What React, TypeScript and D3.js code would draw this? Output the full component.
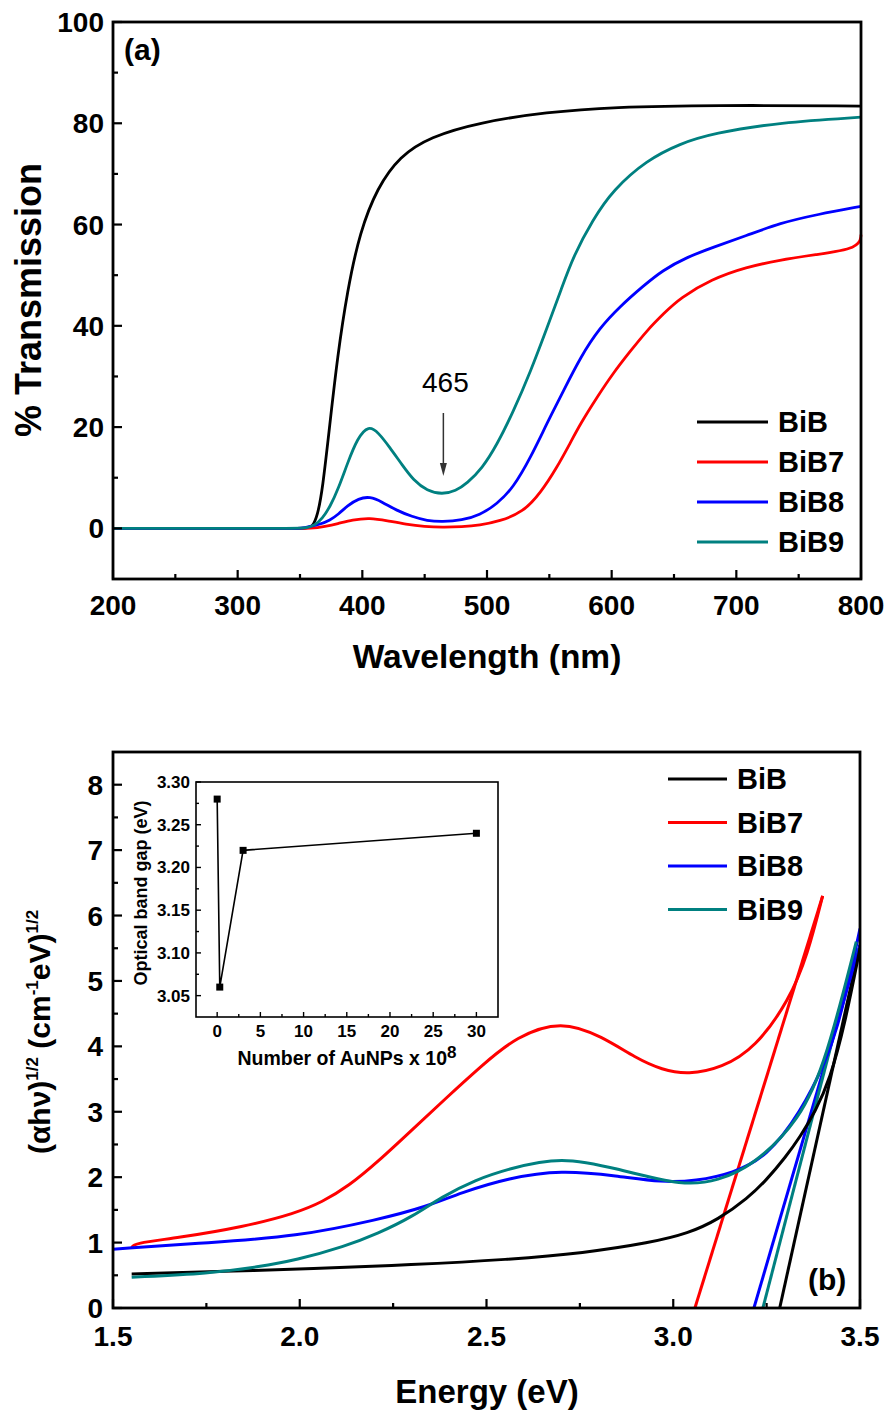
import React from "react";
import * as d3 from "d3";

// ---------- Panel (a): transmission spectra ----------
const bibWl = [200, 340, 356, 360, 364, 368, 374, 380, 388, 398, 412, 430, 454, 494, 548, 601, 681, 800];
const bibT = [0, 0, 0, 0.3, 2.5, 7.5, 20.7, 33.8, 47, 58.5, 67.3, 73.5, 77.3, 80.2, 82.2, 83.2, 83.6, 83.4];

const bib7Wl = [200, 340, 360, 370, 380, 392, 406, 420, 435, 450, 464, 480, 494, 510, 529, 543, 556, 566, 575, 588, 601, 615, 628, 642, 655, 680, 708, 735, 762, 799, 800];
const bib7T = [0, 0, 0, 0.4, 0.9, 1.7, 2.1, 1.5, 0.8, 0.35, 0.2, 0.3, 0.6, 1.4, 3.2, 7, 12, 16.5, 20.7, 25.8, 30.6, 35, 39, 42.5, 45.5, 49.2, 51.6, 53, 54, 55.3, 58];

const bib8Wl = [200, 340, 352, 358, 366, 374, 381, 388, 397, 406, 416, 427, 440, 452, 464, 480, 494, 508, 521, 535, 548, 562, 575, 590, 607, 625, 641, 660, 681, 708, 735, 765, 800];
const bib8T = [0, 0, 0, 0.4, 0.8, 1.6, 2.8, 4.5, 5.9, 6.3, 5.2, 3.6, 2.3, 1.5, 1.3, 1.6, 2.6, 4.8, 8, 14, 20.7, 27.5, 33.8, 39.5, 43.9, 47.8, 51, 53.5, 55.5, 57.8, 60.3, 62, 63.6];

const bib9Wl = [200, 340, 355, 362, 368, 374, 381, 388, 396, 405, 413, 422, 432, 441, 452, 464, 475, 484, 496, 508, 521, 535, 548, 560, 569, 585, 601, 628, 655, 681, 735, 800];
const bib9T = [0, 0, 0, 0.6, 2, 4.2, 8, 12.8, 17.8, 20.4, 18.9, 16, 12.5, 9.5, 7.4, 6.7, 7.4, 8.9, 11.8, 16.5, 23, 31, 39.5, 47.5, 53.6, 61, 66.8, 72.7, 76, 78, 80.2, 81.2];

const seriesNames = ["BiB", "BiB7", "BiB8", "BiB9"];
const seriesColors = ["#000000", "#ff0000", "#0000ff", "#008080"];

const topXTicks = [200, 300, 400, 500, 600, 700, 800];
const topXMinor = [250, 350, 450, 550, 650, 750];
const topYTicks = [0, 20, 40, 60, 80, 100];
const topYMinor = [10, 30, 50, 70, 90];
const annotWl = 465;

// ---------- Panel (b): Tauc plot ----------
const bibE = [1.55, 1.8, 2.03, 2.3, 2.56, 2.76, 2.94, 3.04, 3.12, 3.2, 3.25, 3.3, 3.34, 3.38, 3.42, 3.46, 3.5];
const bibA = [0.52, 0.56, 0.6, 0.66, 0.74, 0.84, 1.0, 1.14, 1.35, 1.68, 1.96, 2.3, 2.62, 3.0, 3.5, 4.35, 5.5];

const bib7E = [1.55, 1.556, 1.67, 1.85, 1.99, 2.06, 2.13, 2.21, 2.3, 2.39, 2.49, 2.58, 2.7, 2.81, 2.9, 2.97, 3.04, 3.13, 3.22, 3.31, 3.36, 3.4];
const bib7A = [0.92, 0.99, 1.07, 1.24, 1.45, 1.62, 1.86, 2.24, 2.72, 3.2, 3.72, 4.15, 4.4, 4.15, 3.82, 3.64, 3.57, 3.67, 3.98, 4.7, 5.4, 6.3];

const bib8E = [1.5, 1.76, 1.99, 2.21, 2.34, 2.43, 2.56, 2.7, 2.85, 2.97, 3.06, 3.16, 3.25, 3.34, 3.41, 3.44, 3.47, 3.5];
const bib8A = [0.9, 1.0, 1.09, 1.35, 1.55, 1.76, 1.99, 2.11, 2.02, 1.92, 1.94, 2.06, 2.31, 2.98, 3.79, 4.3, 5.0, 5.8];

const bib9E = [1.55, 1.76, 1.89, 1.99, 2.12, 2.21, 2.3, 2.38, 2.47, 2.56, 2.7, 2.85, 3.03, 3.12, 3.21, 3.34, 3.41, 3.49];
const bib9A = [0.47, 0.53, 0.63, 0.73, 0.94, 1.14, 1.39, 1.7, 1.96, 2.13, 2.32, 2.13, 1.86, 1.95, 2.16, 2.87, 3.8, 5.6];

// linear fits (x-intercept = band gap)
const fitE = [[3.285, 3.5], [3.058, 3.4], [3.216, 3.5], [3.24, 3.49]];
const fitA = [[0, 5.55], [0, 6.3], [0, 5.55], [0, 5.5]];

const botXTicks = [1.5, 2.0, 2.5, 3.0, 3.5];
const botXMinor = [1.75, 2.25, 2.75, 3.25];
const botYTicks = [0, 1, 2, 3, 4, 5, 6, 7, 8];
const botYMinor = [0.5, 1.5, 2.5, 3.5, 4.5, 5.5, 6.5, 7.5];

// ---------- Inset ----------
const auNum = [0, 0.3, 3, 30];
const bandGap = [3.28, 3.06, 3.22, 3.24];
const insetXTicks = [0, 5, 10, 15, 20, 25, 30];
const insetXMinor = [2.5, 7.5, 12.5, 17.5, 22.5, 27.5];
const insetYTicks = [3.05, 3.1, 3.15, 3.2, 3.25, 3.3];
const insetYMinor = [3.075, 3.125, 3.175, 3.225, 3.275];

const FONT = "'Liberation Sans', Arial, Helvetica, sans-serif";

export default function App() {
  const ax = d3.scaleLinear().domain([200, 800]).range([113, 861]);
  const ay = d3.scaleLinear().domain([-10, 100]).range([579, 22]);
  const bx = d3.scaleLinear().domain([1.5, 3.5]).range([113, 860]);
  const by = d3.scaleLinear().domain([0, 8.5]).range([1308, 752]);
  const ix = d3.scaleLinear().domain([-2.45, 32.5]).range([196, 498]);
  const iy = d3.scaleLinear().domain([3.025, 3.3]).range([1017, 782]);

  const smooth = d3.curveBasis;
  const lineA = d3.line<[number, number]>().x(d => ax(d[0])).y(d => ay(d[1])).curve(smooth);
  const lineB = d3.line<[number, number]>().x(d => bx(d[0])).y(d => by(d[1])).curve(smooth);
  const lineStraight = d3.line<[number, number]>().x(d => bx(d[0])).y(d => by(d[1]));
  const lineI = d3.line<[number, number]>().x(d => ix(d[0])).y(d => iy(d[1]));

  const zip = (a: number[], b: number[]) => a.map((v, i) => [v, b[i]] as [number, number]);

  const topData = [zip(bibWl, bibT), zip(bib7Wl, bib7T), zip(bib8Wl, bib8T), zip(bib9Wl, bib9T)];
  const botData = [zip(bibE, bibA), zip(bib7E, bib7A), zip(bib8E, bib8A), zip(bib9E, bib9A)];
  const fitData = fitE.map((e, i) => zip(e, fitA[i]));
  const insetData = zip(auNum, bandGap);

  const tickStroke = { stroke: "#000", strokeWidth: 2.2 };
  const arrowX = ax(annotWl);

  return (
    <svg width={887} height={1411} style={{ position: "absolute", left: 0, top: 0, background: "#fff" }} fontFamily={FONT}>
      <rect x={0} y={0} width={887} height={1411} fill="#fff" />
      {/* ================= Panel (a) ================= */}
      <g>
        {topData.map((d, i) => (
          <path key={i} d={lineA(d) || ""} fill="none" stroke={seriesColors[i]} strokeWidth={2.8} strokeLinejoin="round" />
        ))}
        <rect x={ax(200)} y={ay(100)} width={ax(800) - ax(200)} height={ay(-10) - ay(100)} fill="none" stroke="#000" strokeWidth={2.8} />
        {topXTicks.map(t => (
          <g key={"tx" + t}>
            <line x1={ax(t)} x2={ax(t)} y1={ay(-10)} y2={ay(-10) - 9} {...tickStroke} />
            <text x={ax(t)} y={615} textAnchor="middle" fontSize={28} fontWeight="bold">{t}</text>
          </g>
        ))}
        {topXMinor.map(t => (
          <line key={"txm" + t} x1={ax(t)} x2={ax(t)} y1={ay(-10)} y2={ay(-10) - 5} {...tickStroke} />
        ))}
        {topYTicks.map(t => (
          <g key={"ty" + t}>
            <line x1={ax(200)} x2={ax(200) + 9} y1={ay(t)} y2={ay(t)} {...tickStroke} />
            <text x={104} y={ay(t) + 10} textAnchor="end" fontSize={28} fontWeight="bold">{t}</text>
          </g>
        ))}
        {topYMinor.map(t => (
          <line key={"tym" + t} x1={ax(200)} x2={ax(200) + 5} y1={ay(t)} y2={ay(t)} {...tickStroke} />
        ))}
        <text x={487} y={668} textAnchor="middle" fontSize={33.5} fontWeight="bold">Wavelength (nm)</text>
        <text transform="translate(41,300) rotate(-90)" textAnchor="middle" fontSize={36} fontWeight="bold">% Transmission</text>
        <text x={124} y={60} fontSize={30} fontWeight="bold">(a)</text>
        <text x={arrowX + 2} y={392} textAnchor="middle" fontSize={28}>{annotWl}</text>
        <line x1={arrowX} x2={arrowX} y1={413} y2={466} stroke="#333" strokeWidth={1.5} />
        <path d={`M${arrowX - 3.5},${463} L${arrowX + 3.5},${463} L${arrowX},${476} Z`} fill="#333" />
        {seriesNames.map((n, i) => (
          <g key={"la" + n}>
            <line x1={697} x2={768} y1={422 + i * 40} y2={422 + i * 40} stroke={seriesColors[i]} strokeWidth={3} />
            <text x={778} y={422 + i * 40 + 10} fontSize={29} fontWeight="bold">{n}</text>
          </g>
        ))}
      </g>

      {/* ================= Panel (b) ================= */}
      <g>
        <defs>
          <clipPath id="clipB">
            <rect x={bx(1.5)} y={by(8.5)} width={bx(3.5) - bx(1.5)} height={by(0) - by(8.5)} />
          </clipPath>
        </defs>
        <g clipPath="url(#clipB)">
          {fitData.map((d, i) => (
            <path key={"f" + i} d={lineStraight(d) || ""} fill="none" stroke={seriesColors[i]} strokeWidth={3} />
          ))}
          {botData.map((d, i) => (
            <path key={"b" + i} d={lineB(d) || ""} fill="none" stroke={seriesColors[i]} strokeWidth={3} strokeLinejoin="round" />
          ))}
        </g>
        <rect x={bx(1.5)} y={by(8.5)} width={bx(3.5) - bx(1.5)} height={by(0) - by(8.5)} fill="none" stroke="#000" strokeWidth={2.8} />
        {botXTicks.map(t => (
          <g key={"bx" + t}>
            <line x1={bx(t)} x2={bx(t)} y1={by(0)} y2={by(0) - 9} {...tickStroke} />
            <text x={bx(t)} y={1346} textAnchor="middle" fontSize={28} fontWeight="bold">{t.toFixed(1)}</text>
          </g>
        ))}
        {botXMinor.map(t => (
          <line key={"bxm" + t} x1={bx(t)} x2={bx(t)} y1={by(0)} y2={by(0) - 5} {...tickStroke} />
        ))}
        {botYTicks.map(t => (
          <g key={"by" + t}>
            <line x1={bx(1.5)} x2={bx(1.5) + 9} y1={by(t)} y2={by(t)} {...tickStroke} />
            <text x={103} y={by(t) + 10} textAnchor="end" fontSize={28} fontWeight="bold">{t}</text>
          </g>
        ))}
        {botYMinor.map(t => (
          <line key={"bym" + t} x1={bx(1.5)} x2={bx(1.5) + 5} y1={by(t)} y2={by(t)} {...tickStroke} />
        ))}
        <text x={487} y={1403} textAnchor="middle" fontSize={33} fontWeight="bold">Energy (eV)</text>
        <text transform="translate(50,1032) rotate(-90)" textAnchor="middle" fontSize={30} fontWeight="bold">
          <tspan>(αhν)</tspan>
          <tspan fontSize={17} dy={-12}>1/2</tspan>
          <tspan dy={12}> (cm</tspan>
          <tspan fontSize={17} dy={-12}>-1</tspan>
          <tspan dy={12}>eV)</tspan>
          <tspan fontSize={17} dy={-12}>1/2</tspan>
        </text>
        <text x={808} y={1290} fontSize={30} fontWeight="bold">(b)</text>
        {seriesNames.map((n, i) => (
          <g key={"lb" + n}>
            <line x1={668} x2={727} y1={779 + i * 43.5} y2={779 + i * 43.5} stroke={seriesColors[i]} strokeWidth={3} />
            <text x={737} y={779 + i * 43.5 + 10} fontSize={29} fontWeight="bold">{n}</text>
          </g>
        ))}

        {/* ---------- Inset ---------- */}
        <path d={lineI(insetData) || ""} fill="none" stroke="#000" strokeWidth={1.6} />
        {insetData.map((d, i) => (
          <rect key={"ip" + i} x={ix(d[0]) - 3.5} y={iy(d[1]) - 3.5} width={7} height={7} fill="#000" />
        ))}
        <rect x={ix(-2.45)} y={iy(3.3)} width={ix(32.5) - ix(-2.45)} height={iy(3.025) - iy(3.3)} fill="none" stroke="#000" strokeWidth={1.6} />
        {insetXTicks.map(t => (
          <g key={"ix" + t}>
            <line x1={ix(t)} x2={ix(t)} y1={iy(3.025)} y2={iy(3.025) - 5} stroke="#000" strokeWidth={1.4} />
            <text x={ix(t)} y={1037} textAnchor="middle" fontSize={17} fontWeight="bold">{t}</text>
          </g>
        ))}
        {insetXMinor.map(t => (
          <line key={"ixm" + t} x1={ix(t)} x2={ix(t)} y1={iy(3.025)} y2={iy(3.025) - 3} stroke="#000" strokeWidth={1.4} />
        ))}
        {insetYTicks.map(t => (
          <g key={"iy" + t}>
            <line x1={ix(-2.45)} x2={ix(-2.45) + 5} y1={iy(t)} y2={iy(t)} stroke="#000" strokeWidth={1.4} />
            <text x={190} y={iy(t) + 6} textAnchor="end" fontSize={17} fontWeight="bold">{t.toFixed(2)}</text>
          </g>
        ))}
        {insetYMinor.map(t => (
          <line key={"iym" + t} x1={ix(-2.45)} x2={ix(-2.45) + 3} y1={iy(t)} y2={iy(t)} stroke="#000" strokeWidth={1.4} />
        ))}
        <text x={347} y={1065} textAnchor="middle" fontSize={19.5} fontWeight="bold">
          <tspan>Number of AuNPs x 10</tspan>
          <tspan fontSize={17} dy={-7}>8</tspan>
        </text>
        <text transform="translate(147,893) rotate(-90)" textAnchor="middle" fontSize={18} fontWeight="bold">Optical band gap (eV)</text>
      </g>
    </svg>
  );
}
